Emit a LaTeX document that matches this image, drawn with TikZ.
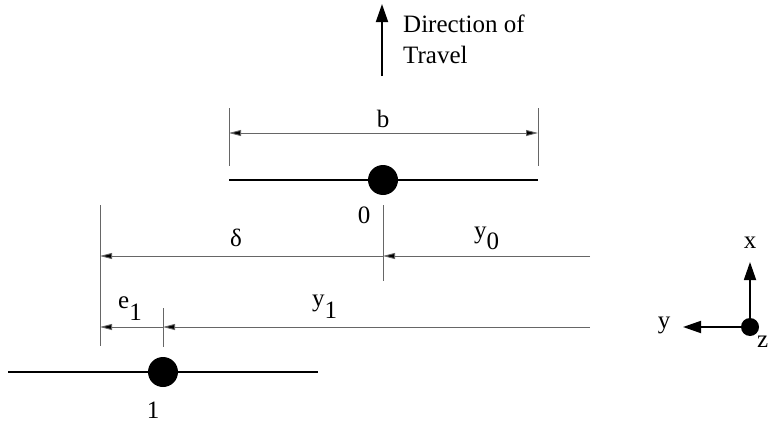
\documentclass[tikz,border=0pt]{standalone}
\usepackage{fontspec}
\setmainfont{Liberation Serif}
\usetikzlibrary{arrows.meta}
\begin{document}
\begin{tikzpicture}[x=1pt,y=-1pt,
  lbl/.style={inner sep=0pt, font=\fontsize{25}{31}\selectfont},
  thinline/.style={line width=0.9pt, draw=black!60},
  dimarrow/.style={thinline, -{Triangle[length=12pt,width=6pt,fill=black]}},
  dimboth/.style={thinline, {Triangle[length=12pt,width=6pt,fill=black]}-{Triangle[length=12pt,width=6pt,fill=black]}},
  axle/.style={line width=1.8pt},
  wheel/.style={circle, fill=black, minimum size=30pt, inner sep=0pt},
  origin/.style={circle, fill=black, minimum size=18pt, inner sep=0pt},
  bigarrow/.style={line width=1.8pt, -{Triangle[length=18pt,width=12pt]}}]
\useasboundingbox (0,0) rectangle (769,423);

% direction of travel
\coordinate (tb) at (382,76);
\coordinate (tt) at (382,4);
\draw[bigarrow] (tb) -- (tt);
\node[lbl, anchor=north west, align=left] (dir) at (403,15) {Direction of\\Travel};

% dimension b
\coordinate (bL1) at (229,108); \coordinate (bL2) at (229,166);
\coordinate (bR1) at (538,108); \coordinate (bR2) at (538,166);
\coordinate (bLa) at (229,133); \coordinate (bRa) at (538,133);
\draw[thinline] (bL1) -- (bL2);
\draw[thinline] (bR1) -- (bR2);
\draw[dimboth] (bLa) -- (bRa);
\node[lbl, anchor=base] (blab) at (383,127) {b};

% axle 0
\coordinate (a0L) at (229,180); \coordinate (a0R) at (538,180);
\draw[axle] (a0L) -- (a0R);
\node[wheel] (w0) at (383,180) {};
\node[lbl, anchor=base] (l0) at (364,223) {0};

% delta / y0
\coordinate (c0t) at (383,205); \coordinate (c0b) at (383,281);
\coordinate (c0m) at (383,256);
\coordinate (eT) at (100,205); \coordinate (eB) at (100,346);
\coordinate (eD) at (100,256);
\coordinate (y0R) at (590,256);
\draw[thinline] (c0t) -- (c0b);
\draw[thinline] (eT) -- (eB);
\draw[dimarrow] (c0m) -- (eD);
\draw[dimarrow] (y0R) -- (c0m);
\node[lbl] (dl) at (236,238) {δ};
\node[lbl, anchor=base west] (y0l) at (474,238) {y\raisebox{-11pt}{0}};

% e1 / y1
\coordinate (c1t) at (163,308); \coordinate (c1b) at (163,347);
\coordinate (c1m) at (163,327);
\coordinate (eE) at (100,327);
\coordinate (y1R) at (590,327);
\draw[thinline] (c1t) -- (c1b);
\draw[dimarrow] (c1m) -- (eE);
\draw[dimarrow] (y1R) -- (c1m);
\node[lbl, anchor=base west] (e1l) at (118,308) {e\raisebox{-12pt}{1}};
\node[lbl, anchor=base west] (y1l) at (312,306) {y\raisebox{-12pt}{1}};

% axle 1
\coordinate (a1L) at (8,372); \coordinate (a1R) at (318,372);
\draw[axle] (a1L) -- (a1R);
\node[wheel] (w1) at (163,372) {};
\node[lbl, anchor=base] (l1) at (153,418) {1};

% coordinate system
\node[origin] (o) at (750,327) {};
\coordinate (xt) at (750,262);
\coordinate (yt) at (683,327);
\draw[bigarrow] (o.center) -- (xt);
\draw[bigarrow] (o.center) -- (yt);
\node[lbl] (xl) at (750,243) {x};
\node[lbl] (yl) at (664,325) {y};
\node[lbl, anchor=east] (zl) at (768.5,342) {z};
\end{tikzpicture}
\end{document}
